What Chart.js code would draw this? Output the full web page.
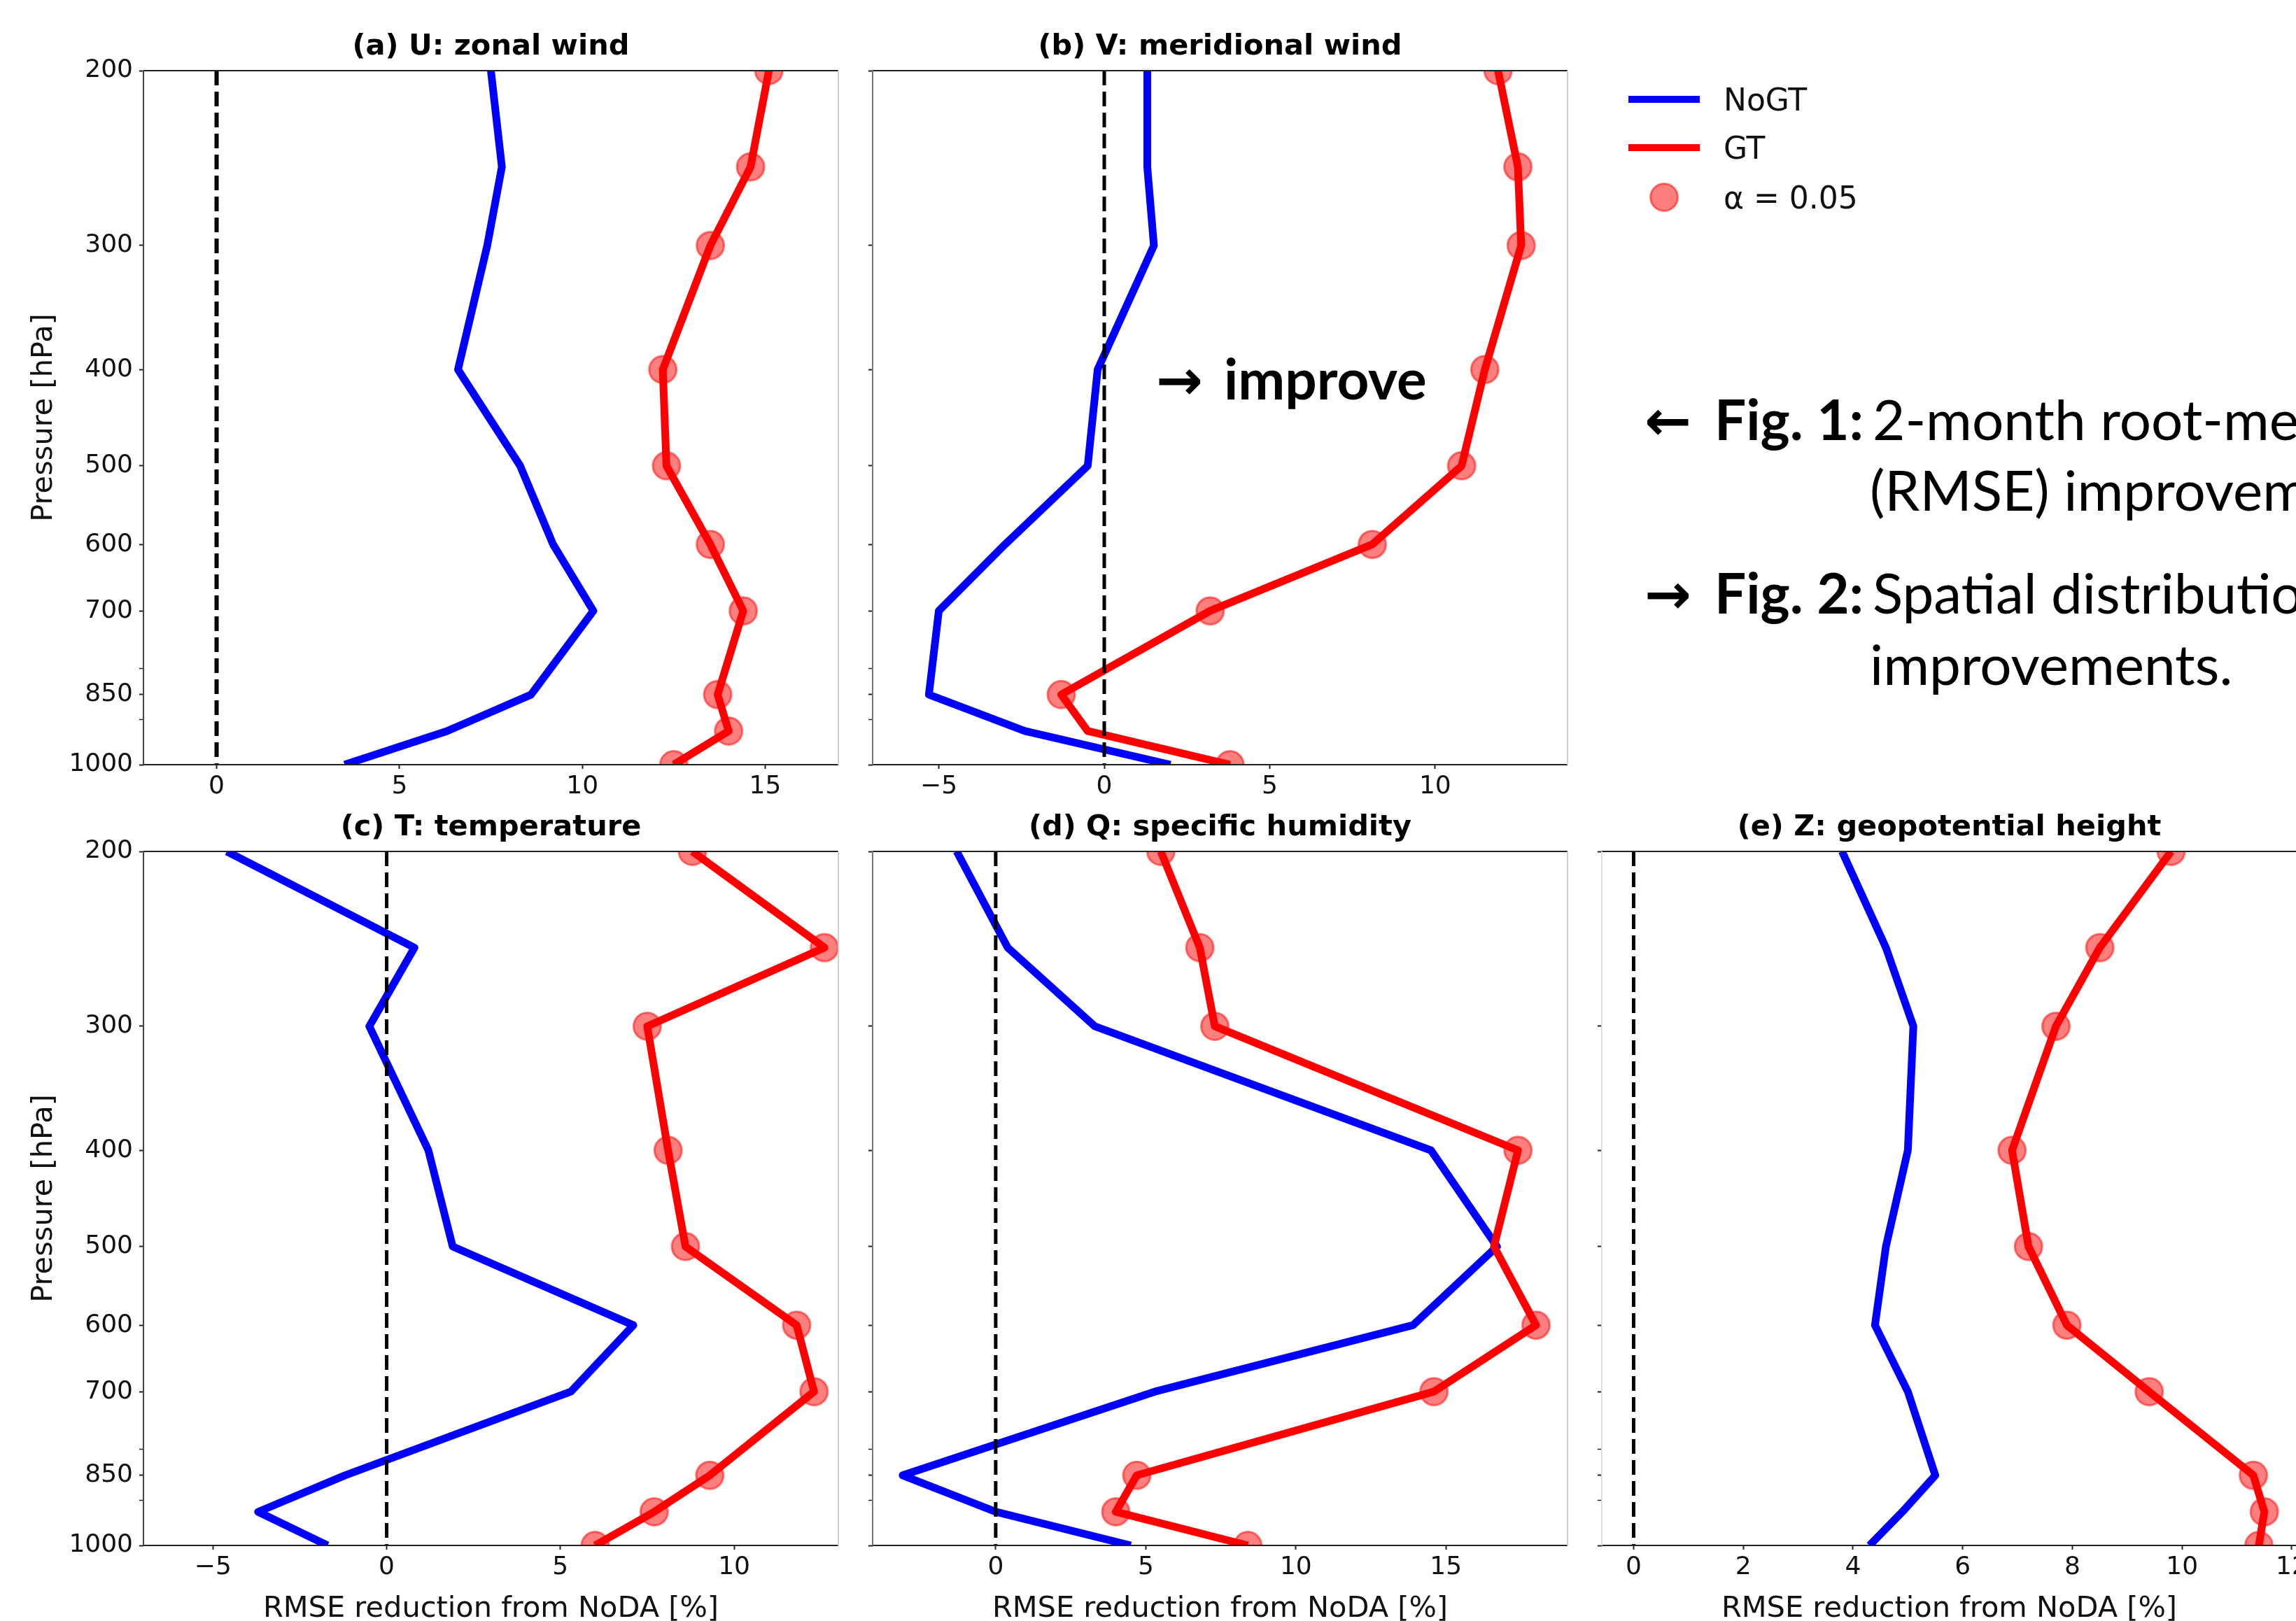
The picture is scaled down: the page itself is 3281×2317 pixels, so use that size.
<!DOCTYPE html>
<html>
<head>
<meta charset="utf-8">
<script src="https://cdn.jsdelivr.net/npm/chart.js@4.4.1/dist/chart.umd.min.js"></script>
<style>
html, body { margin: 0; padding: 0; background: #fff; width: 3281px; height: 2317px; overflow: hidden; }
body { position: relative; }
canvas { position: absolute; }
#notes { position: absolute; left: 0; top: 0; }
</style>
</head>
<body>
<canvas id="pa" width="1260" height="1223" style="left:0px;top:0px"></canvas>
<canvas id="pb" width="1260" height="1223" style="left:1042px;top:0px"></canvas>
<canvas id="pc" width="1260" height="1223" style="left:0px;top:1116px"></canvas>
<canvas id="pd" width="1260" height="1223" style="left:1042px;top:1116px"></canvas>
<canvas id="pe" width="1260" height="1223" style="left:2084px;top:1116px"></canvas>

<svg id="notes" width="3281" height="2317" xmlns="http://www.w3.org/2000/svg">
  <g font-family="DejaVu Sans" font-size="44" fill="#111">
    <line x1="2327" y1="142" x2="2429" y2="142" stroke="#0000ff" stroke-width="10"/>
    <line x1="2327" y1="211" x2="2429" y2="211" stroke="#ff0000" stroke-width="10"/>
    <circle cx="2378" cy="282" r="19.5" fill="rgba(255,0,0,0.5)" stroke="rgba(255,0,0,0.5)" stroke-width="3"/>
    <text x="2463" y="158">NoGT</text>
    <text x="2463" y="227">GT</text>
    <text x="2463" y="298">α = 0.05</text>
  </g>
  <g font-family="Lato, 'DejaVu Sans'" font-size="80" fill="#000">
    <text y="571" font-weight="bold"><tspan x="1652" font-family="DejaVu Sans" font-size="80">→</tspan><tspan x="1749">improve</tspan></text>
    <text y="629"><tspan x="2350" font-weight="bold" font-family="DejaVu Sans" font-size="80">←</tspan><tspan x="2450" font-weight="bold">Fig. 1:</tspan><tspan x="2676">2-month root-mean-square error</tspan></text>
    <text y="730"><tspan x="2672">(RMSE) improvements.</tspan></text>
    <text y="877"><tspan x="2350" font-weight="bold" font-family="DejaVu Sans" font-size="80">→</tspan><tspan x="2450" font-weight="bold">Fig. 2:</tspan><tspan x="2676">Spatial distribution of</tspan></text>
    <text y="979"><tspan x="2672">improvements.</tspan></text>
  </g>
</svg>

<script>
// pressure levels (hPa)
var levels = [200, 250, 300, 400, 500, 600, 700, 850, 925, 1000];
var yMajorTicks = [200, 300, 400, 500, 600, 700, 850, 1000];
var yMinorTicks = [800, 900];

// RMSE reduction from NoDA [%]
var uNoGT = [7.5, 7.8, 7.4, 6.6, 8.3, 9.2, 10.3, 8.6, 6.3, 3.5];
var uGT   = [15.1, 14.6, 13.5, 12.2, 12.3, 13.5, 14.4, 13.7, 14.0, 12.5];
var uSig  = [1, 1, 1, 1, 1, 1, 1, 1, 1, 1];

var vNoGT = [1.3, 1.3, 1.5, -0.2, -0.5, -3.0, -5.0, -5.3, -2.4, 2.0];
var vGT   = [11.9, 12.5, 12.6, 11.5, 10.8, 8.1, 3.2, -1.3, -0.5, 3.8];
var vSig  = [1, 1, 1, 1, 1, 1, 1, 1, 0, 1];

var tNoGT = [-4.6, 0.8, -0.5, 1.2, 1.9, 7.1, 5.3, -1.2, -3.7, -1.7];
var tGT   = [8.8, 12.6, 7.5, 8.1, 8.6, 11.8, 12.3, 9.3, 7.7, 6.0];
var tSig  = [1, 1, 1, 1, 1, 1, 1, 1, 1, 1];

var qNoGT = [-1.3, 0.4, 3.3, 14.5, 16.7, 13.9, 5.3, -3.1, 0.0, 4.5];
var qGT   = [5.5, 6.8, 7.3, 17.4, 16.6, 18.0, 14.6, 4.7, 4.0, 8.4];
var qSig  = [1, 1, 1, 1, 0, 1, 1, 1, 1, 1];

var zNoGT = [3.8, 4.6, 5.1, 5.0, 4.6, 4.4, 5.0, 5.5, 4.9, 4.3];
var zGT   = [9.8, 8.5, 7.7, 6.9, 7.2, 7.9, 9.4, 11.3, 11.5, 11.4];
var zSig  = [1, 1, 1, 1, 1, 1, 1, 1, 1, 1];

var xTicksA = [0, 5, 10, 15];
var xTicksB = [-5, 0, 5, 10];
var xTicksC = [-5, 0, 5, 10];
var xTicksD = [0, 5, 10, 15];
var xTicksE = [0, 2, 4, 6, 8, 10, 12];

Chart.defaults.font.family = 'DejaVu Sans';
Chart.defaults.color = '#111';

// plot box inside every canvas
var AREA = { left: 205, top: 101, right: 1198, bottom: 1093 };

// matplotlib-like frame, each side its own colour
var spines = {
  id: 'spines',
  afterDraw: function (chart, args, opts) {
    var a = chart.chartArea, c = chart.ctx;
    function seg(x1, y1, x2, y2, col) {
      c.beginPath(); c.strokeStyle = col; c.lineWidth = 2;
      c.moveTo(x1, y1); c.lineTo(x2, y2); c.stroke();
    }
    c.save();
    seg(a.left, a.top, a.right, a.top, '#222');
    seg(a.left, a.bottom, a.right, a.bottom, '#222');
    seg(a.right, a.top, a.right, a.bottom, '#cfcfcf');
    seg(a.left, a.top, a.left, a.bottom, opts.left || '#444');
    c.restore();
  }
};

function fmt(v) {
  return v < 0 ? '\u2212' + Math.abs(v) : String(v);
}

function makePanel(id, title, nogt, gt, sig, xMin, xMax, xTicks, opt) {
  var pts = function (vals) {
    return levels.map(function (lv, i) { return { x: vals[i], y: lv }; });
  };
  var dims = { xh: 130, yw: 205 };
  var ch = new Chart(document.getElementById(id), {
    type: 'line',
    data: {
      datasets: [
        { label: 'zero', data: [{ x: 0, y: 200 }, { x: 0, y: 1000 }],
          borderColor: '#000', borderWidth: opt.zeroWidth, borderDash: [21, 9],
          pointRadius: 0, clip: 0 },
        { label: 'GT', data: pts(gt), borderColor: '#ff0000', borderWidth: 11,
          borderJoinStyle: 'round',
          pointRadius: function (ctx) { return sig[ctx.dataIndex] ? 19.5 : 0; },
          pointBackgroundColor: 'rgba(255,0,0,0.5)',
          pointBorderColor: 'rgba(255,0,0,0.5)', pointBorderWidth: 3, clip: 0 },
        { label: 'NoGT', data: pts(nogt), borderColor: '#0000ff', borderWidth: 11,
          borderJoinStyle: 'round', pointRadius: 0, clip: 0 }
      ]
    },
    options: {
      indexAxis: 'y',
      responsive: false,
      animation: false,
      events: [],
      layout: { padding: { left: 0, right: 62, top: 0, bottom: 0 } },
      scales: {
        x: {
          type: 'linear', position: 'bottom', min: xMin, max: xMax,
          afterBuildTicks: function (s) { s.ticks = xTicks.map(function (v) { return { value: v }; }); },
          afterFit: function (s) { s.height = dims.xh; },
          ticks: { autoSkip: false, maxRotation: 0, padding: 4, color: '#111', font: { size: 36 }, callback: fmt },
          grid: { drawOnChartArea: false, tickLength: 6, tickWidth: 2, tickColor: '#222' },
          border: { display: false },
          title: { display: opt.xTitle, text: 'RMSE reduction from NoDA [%]', color: '#111',
                   font: { size: 41.5 }, padding: { top: 0, bottom: 14 } }
        },
        y: {
          type: 'logarithmic', position: 'left', reverse: true, min: 200, max: 1000,
          afterBuildTicks: function (s) {
            s.ticks = yMajorTicks.concat(yMinorTicks).sort(function (a, b) { return a - b; })
              .map(function (v) { return { value: v }; });
          },
          afterFit: function (s) { s.width = dims.yw; },
          ticks: { display: opt.yLabels, autoSkip: false, padding: 9, color: '#111', font: { size: 36 },
                   callback: function (v) { return yMajorTicks.indexOf(v) >= 0 ? String(v) : ''; } },
          grid: { drawOnChartArea: false, tickLength: 6, tickColor: '#222',
                  tickWidth: function (ctx) { return ctx.tick && yMinorTicks.indexOf(ctx.tick.value) >= 0 ? 1.5 : 2; } },
          border: { display: false },
          title: { display: opt.yLabels, text: 'Pressure [hPa]', color: '#111',
                   font: { size: 41.5 }, padding: { top: 38, bottom: 0 } }
        }
      },
      plugins: {
        legend: { display: false },
        tooltip: { enabled: false },
        title: { display: true, text: title, fullSize: false, color: '#000',
                 font: { size: 41.5, weight: 'bold' }, padding: { top: 42, bottom: 9 } },
        spines: { left: opt.leftSpine }
      }
    },
    plugins: [spines]
  });

  // nudge the layout until the plot box sits where the figure has it
  for (var k = 0; k < 4; k++) {
    var a = ch.chartArea;
    ch.options.layout.padding.right += a.right - AREA.right;
    ch.options.plugins.title.padding.top += AREA.top - a.top;
    dims.xh += a.bottom - AREA.bottom;
    dims.yw += AREA.left - a.left;
    ch.update();
  }
}

makePanel('pa', '(a) U: zonal wind', uNoGT, uGT, uSig, -2, 17, xTicksA,
  { yLabels: true, xTitle: false, zeroWidth: 6, leftSpine: '#444' });
makePanel('pb', '(b) V: meridional wind', vNoGT, vGT, vSig, -7, 14, xTicksB,
  { yLabels: false, xTitle: false, zeroWidth: 5, leftSpine: '#777' });
makePanel('pc', '(c) T: temperature', tNoGT, tGT, tSig, -7, 13, xTicksC,
  { yLabels: true, xTitle: true, zeroWidth: 5, leftSpine: '#444' });
makePanel('pd', '(d) Q: specific humidity', qNoGT, qGT, qSig, -4.1, 19.05, xTicksD,
  { yLabels: false, xTitle: true, zeroWidth: 5, leftSpine: '#777' });
makePanel('pe', '(e) Z: geopotential height', zNoGT, zGT, zSig, -0.58, 12.09, xTicksE,
  { yLabels: false, xTitle: true, zeroWidth: 5, leftSpine: '#ddd' });
</script>
</body>
</html>
